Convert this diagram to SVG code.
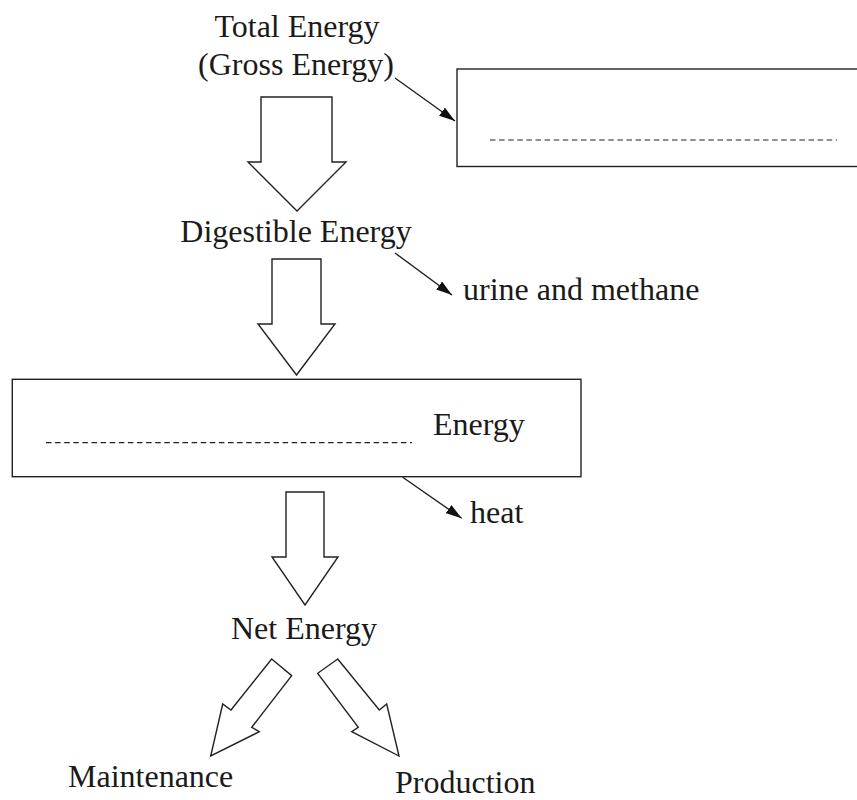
<svg xmlns="http://www.w3.org/2000/svg" width="857" height="800" viewBox="0 0 857 800">
<style>
.t{font-family:"Liberation Serif","Times New Roman",serif;font-size:32px;fill:#1a1a1a}
.blk{fill:#fff;stroke:#222;stroke-width:1.4;stroke-linejoin:miter}
.box{fill:#fff;stroke:#222;stroke-width:1.4}
.dash{stroke:#222;stroke-width:1.2;stroke-dasharray:5.5 3.6}
.ln{stroke:#222;stroke-width:1.4;fill:none}
</style>
<defs>
<marker id="ah" viewBox="0 0 16 10" refX="16" refY="5" markerWidth="16" markerHeight="10" markerUnits="userSpaceOnUse" orient="auto">
<path d="M0,0 L16,5 L0,10 Z" fill="#111"/>
</marker>
</defs>
<rect width="857" height="800" fill="#fff"/>
<g id="total">
<text class="t" x="297" y="37" text-anchor="middle">Total Energy</text>
<text class="t" x="296" y="75" text-anchor="middle">(Gross Energy)</text>
</g>
<g id="box1">
<rect class="box" x="457" y="69" width="410" height="97.5"/>
<line class="dash" x1="490" y1="140" x2="837" y2="140"/>
</g>
<g id="digestible">
<text class="t" x="296" y="242" text-anchor="middle">Digestible Energy</text>
</g>
<g id="urine">
<text class="t" x="463" y="300">urine and methane</text>
</g>
<g id="box2">
<rect class="box" x="12.3" y="379.3" width="568.7" height="97.4"/>
<line class="dash" x1="46" y1="442.7" x2="412" y2="442.7"/>
<text class="t" x="433" y="435">Energy</text>
</g>
<g id="heat">
<text class="t" x="470" y="523">heat</text>
</g>
<g id="net">
<text class="t" x="304" y="639" text-anchor="middle">Net Energy</text>
</g>
<g id="maintenance">
<text class="t" x="68" y="787">Maintenance</text>
</g>
<g id="production">
<text class="t" x="395" y="793">Production</text>
</g>
<g id="connectors">
<polygon class="blk" points="261,97 332,97 332,162 346,162 297,211 248,162 261,162"/>
<polygon class="blk" points="272,259 321,259 321,324 335,324 296.5,375 258,324 272,324"/>
<polygon class="blk" points="286,492 324,492 324,557 338,557 305,605 272,557 286,557"/>
<polygon class="blk" points="271.7,659 291.7,675.7 251.7,727.3 259.3,731.7 210.7,756 222.7,704 231,710"/>
<polygon class="blk" points="337.7,659 317.7,673.3 358.3,727.3 351.7,731.7 399,756 386.7,704 379.3,710"/>
<line class="ln" x1="395" y1="78" x2="455" y2="121" marker-end="url(#ah)"/>
<line class="ln" x1="395" y1="253" x2="452" y2="295" marker-end="url(#ah)"/>
<line class="ln" x1="402.7" y1="477.3" x2="461.7" y2="518.3" marker-end="url(#ah)"/>
</g>
</svg>
